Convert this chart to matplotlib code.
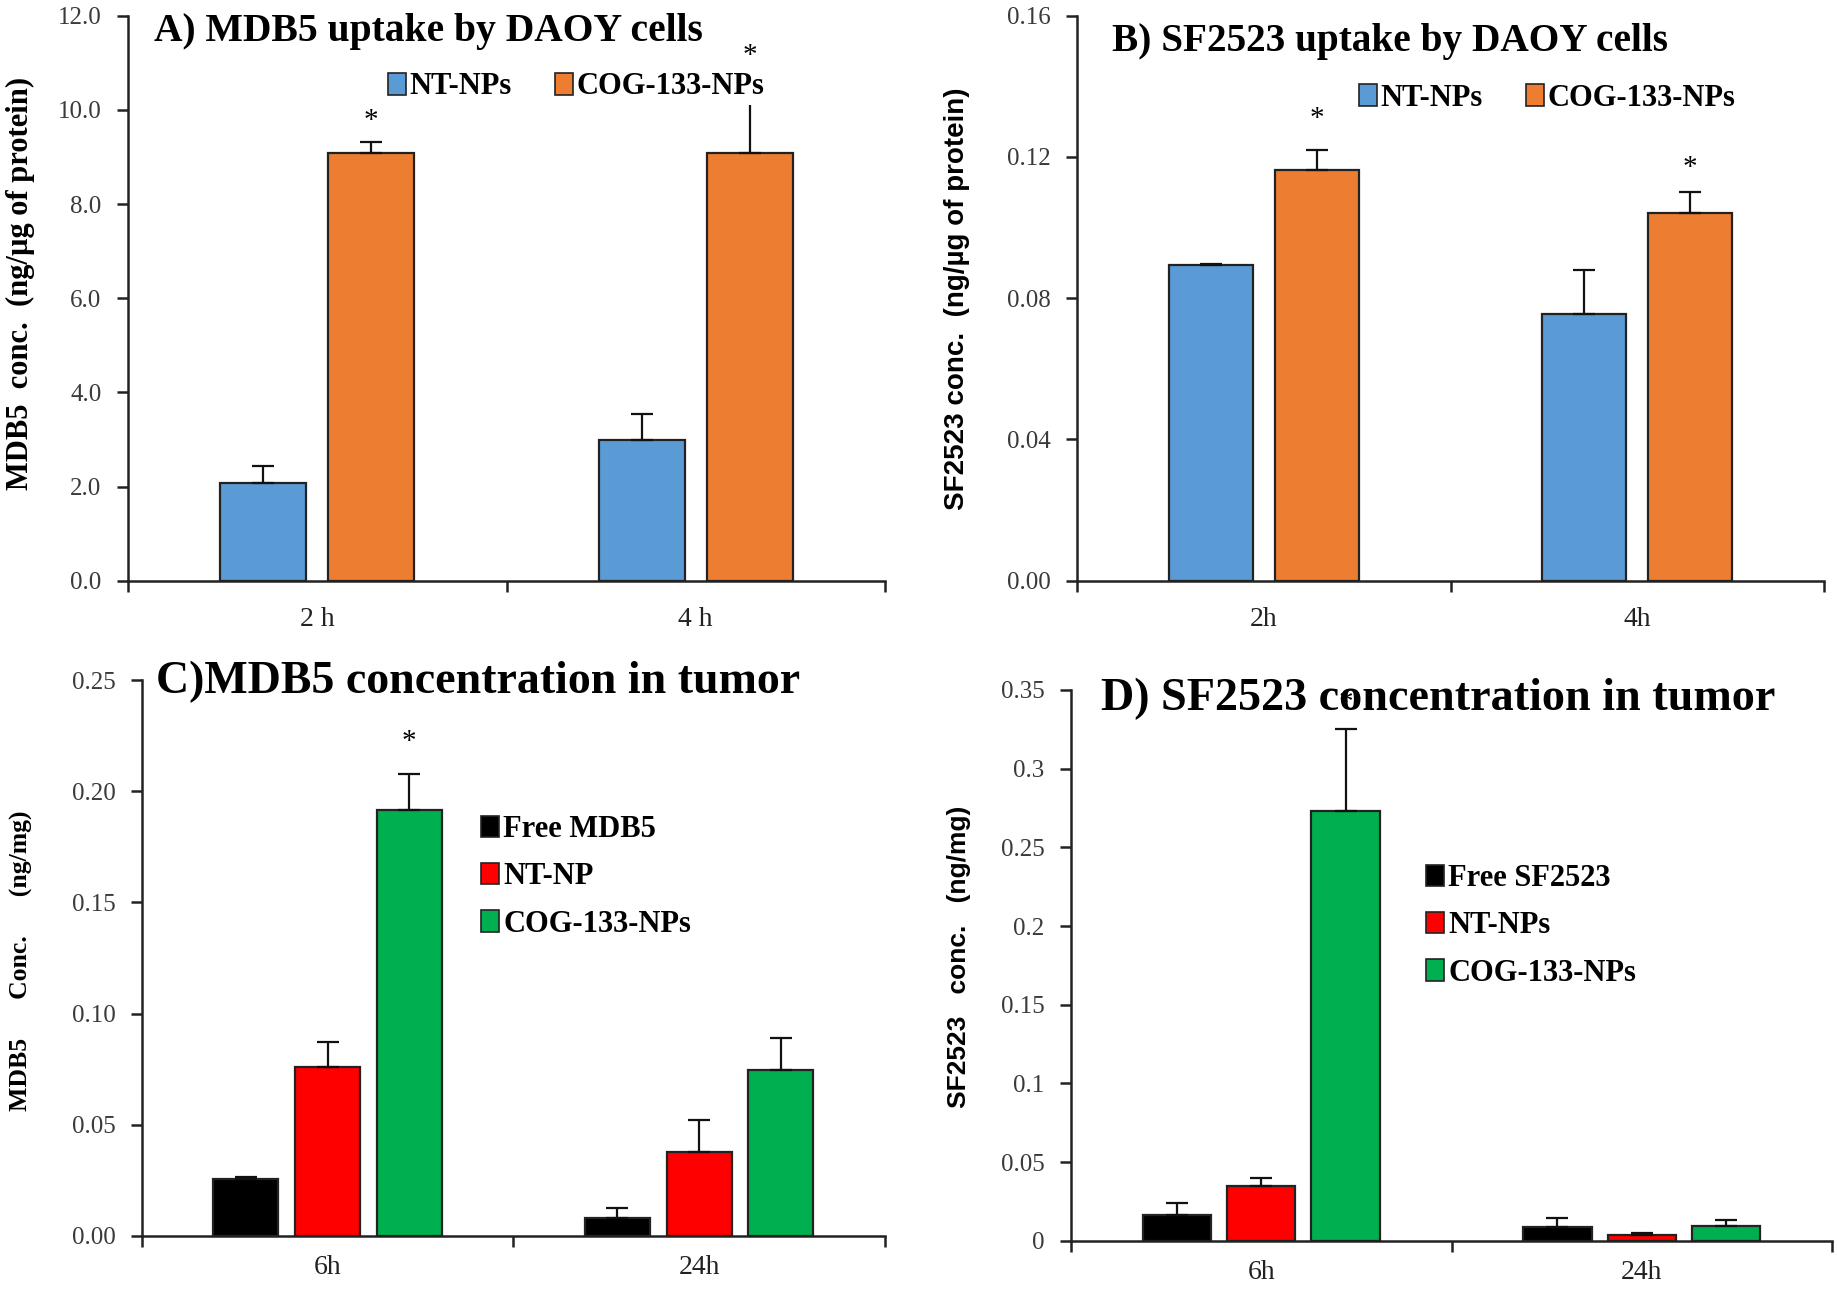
import numpy as np
import matplotlib
matplotlib.use("Agg")
import matplotlib.pyplot as plt
from matplotlib.patches import Patch

plt.rcParams['font.family'] = ['Liberation Serif', 'DejaVu Serif']

W, H = 1837, 1291

# ---- data ----
a_cats = ["2 h", "4 h"]
a_groups = ["NT-NPs", "COG-133-NPs"]
a_vals = [[2.07, 2.99], [9.08, 9.08]]
a_errs = [[0.37, 0.55], [0.23, 1.40]]
a_star = [None, None], [9.76, 11.15]

b_cats = ["2h", "4h"]
b_groups = ["NT-NPs", "COG-133-NPs"]
b_vals = [[0.0895, 0.0754], [0.1162, 0.1041]]
b_errs = [[0.0003, 0.0127], [0.0059, 0.0060]]
b_star = [None, None], [0.1307, 0.1168]

c_cats = ["6h", "24h"]
c_groups = ["Free MDB5", "NT-NP", "COG-133-NPs"]
c_vals = [[0.0258, 0.0080], [0.0760, 0.0379], [0.1917, 0.0747]]
c_errs = [[0.0007, 0.0045], [0.0112, 0.0144], [0.0159, 0.0143]]
c_star = [None, None], [None, None], [0.222, None]

d_cats = ["6h", "24h"]
d_groups = ["Free SF2523", "NT-NPs", "COG-133-NPs"]
d_vals = [[0.0161, 0.0085], [0.0346, 0.0034], [0.2734, 0.0095]]
d_errs = [[0.0077, 0.0060], [0.0050, 0.0016], [0.0520, 0.0034]]
d_star = [None, None], [None, None], [0.342, None]

blue, orange = "#5B9BD5", "#ED7D31"
black, red, green = "#000000", "#FF0000", "#00B050"


def px_axes(left, top, right, bottom):
    return [left / W, 1 - bottom / H, (right - left) / W, (bottom - top) / H]


def draw_panel(ax, cats, vals, errs, stars, colors, width, offset, ylim, yticks, fmt, xpad):
    x = np.arange(len(cats))
    n = len(vals)
    for i in range(n):
        xi = x + (i - (n - 1) / 2) * offset
        ax.bar(xi, vals[i], width, color=colors[i], edgecolor="#222222",
               linewidth=1.6, zorder=2)
        ax.errorbar(xi, vals[i], yerr=[np.zeros(len(cats)), errs[i]], fmt="none",
                    ecolor="#111111", elinewidth=1.6, capsize=8, capthick=1.6, zorder=3)
        for j, s in enumerate(stars[i]):
            if s is not None:
                ax.text(xi[j], s, "*", ha="center", va="center", fontsize=21, zorder=1)
    ax.set_xlim(-0.5, len(cats) - 0.5)
    ax.set_ylim(*ylim)
    ax.set_yticks(yticks)
    ax.set_yticklabels([fmt(v) for v in yticks], fontsize=18, color="#3a3a3a")
    ax.set_xticks(x)
    ax.set_xticklabels(cats, fontsize=20, color="#222222")
    ax.set_xticks(np.arange(len(cats) + 1) - 0.5, minor=True)
    ax.tick_params(axis="x", which="major", length=0, pad=xpad)
    ax.tick_params(axis="x", which="minor", length=8, width=1.8, direction="out", color="#222222")
    ax.tick_params(axis="y", length=8, width=1.8, direction="out", pad=11, color="#222222")
    for side in ["top", "right"]:
        ax.spines[side].set_visible(False)
    for side in ["left", "bottom"]:
        ax.spines[side].set_linewidth(1.8)
        ax.spines[side].set_color("#222222")


fig = plt.figure(figsize=(W / 100, H / 100), dpi=100)

axA = fig.add_axes(px_axes(128, 15.7, 885, 580.7))
draw_panel(axA, a_cats, a_vals, a_errs, a_star, [blue, orange], 0.2275, 0.286,
           (0, 12), np.arange(0, 12.1, 2), lambda v: "%.1f" % v, 19)

axB = fig.add_axes(px_axes(1077, 15.7, 1824, 580.7))
draw_panel(axB, b_cats, b_vals, b_errs, b_star, [blue, orange], 0.225, 0.284,
           (0, 0.16), np.arange(0, 0.161, 0.04), lambda v: "%.2f" % v, 19)

axC = fig.add_axes(px_axes(141.7, 680, 885, 1236))
draw_panel(axC, c_cats, c_vals, c_errs, c_star, [black, red, green], 0.175, 0.22,
           (0, 0.25), np.arange(0, 0.251, 0.05), lambda v: "%.2f" % v, 14)

axD = fig.add_axes(px_axes(1071, 690, 1832, 1240.7))
draw_panel(axD, d_cats, d_vals, d_errs, d_star, [black, red, green], 0.18, 0.222,
           (0, 0.35), np.arange(0, 0.351, 0.05),
           lambda v: ("%.2f" % v).rstrip("0").rstrip(".") if v else "0", 14)


def ftext(x, y, s, **kw):
    fig.text(x / W, 1 - y / H, s, **kw)


# titles
ftext(154, 41, "A) MDB5 uptake by DAOY cells", fontsize=28.5, fontweight="bold", va="baseline")
ftext(1112, 51, "B) SF2523 uptake by DAOY cells", fontsize=28.3, fontweight="bold", va="baseline")
ftext(156, 693, "C)MDB5 concentration in tumor", fontsize=33, fontweight="bold", va="baseline")
ftext(1101, 710, "D) SF2523 concentration in tumor", fontsize=33.2, fontweight="bold", va="baseline")

# y labels
ftext(20, 283, "MDB5  conc.  (ng/µg of protein)", fontsize=22, fontweight="bold",
      rotation=90, ha="center", va="center")
ftext(957, 299, "SF2523 conc.  (ng/µg of protein)", fontsize=20, fontweight="bold",
      rotation=90, ha="center", va="center", family="Liberation Sans")
ftext(21, 961, "MDB5      Conc.      (ng/mg)", fontsize=18.5, fontweight="bold",
      rotation=90, ha="center", va="center")
ftext(959, 957, "SF2523   conc.   (ng/mg)", fontsize=19, fontweight="bold",
      rotation=90, ha="center", va="center", family="Liberation Sans")


# legends
def handles(groups, colors):
    return [Patch(facecolor=c, edgecolor="#222222", linewidth=1.2, label=g)
            for g, c in zip(groups, colors)]


leg_kw = dict(frameon=True, fancybox=False, edgecolor="none", facecolor="white", framealpha=1,
              prop={"weight": "bold", "size": 22}, handlelength=0.6, handleheight=0.7,
              handletextpad=0.12, borderpad=0.1, borderaxespad=0)

legA = axA.legend(handles=handles(a_groups, [blue, orange]), ncol=2, columnspacing=1.4,
                  loc="center", bbox_to_anchor=(576 / W, 1 - 87 / H),
                  bbox_transform=fig.transFigure, **leg_kw)
legA.set_zorder(5)
legB = axB.legend(handles=handles(b_groups, [blue, orange]), ncol=2, columnspacing=1.4,
                  loc="center", bbox_to_anchor=(1547 / W, 1 - 98 / H),
                  bbox_transform=fig.transFigure, **leg_kw)
legB.set_zorder(5)
legC = axC.legend(handles=handles(c_groups, [black, red, green]), labelspacing=0.6,
                  loc="upper left", bbox_to_anchor=(478 / W, 1 - 812 / H),
                  bbox_transform=fig.transFigure, **leg_kw)
legD = axD.legend(handles=handles(d_groups, [black, red, green]), labelspacing=0.6,
                  loc="upper left", bbox_to_anchor=(1423 / W, 1 - 861 / H),
                  bbox_transform=fig.transFigure, **leg_kw)

fig.savefig("out.png", dpi=100)
